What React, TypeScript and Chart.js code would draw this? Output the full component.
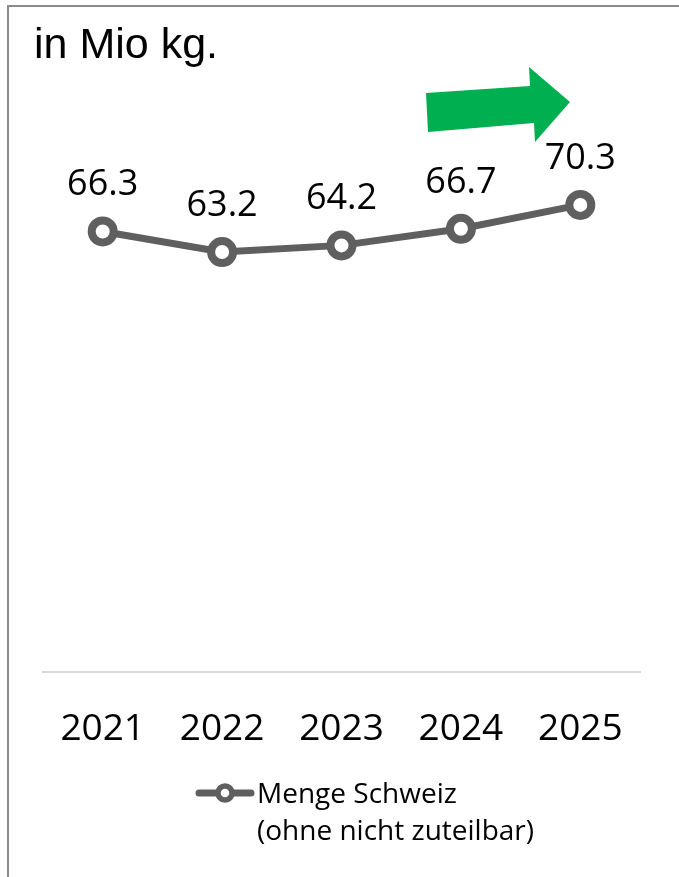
import React, { useEffect, useRef } from "react";
import { Chart, registerables } from "chart.js";

Chart.register(...registerables);

const years = ["2021", "2022", "2023", "2024", "2025"];
const mengeSchweiz = [66.3, 63.2, 64.2, 66.7, 70.3];
const legendLines = ["Menge Schweiz", "(ohne nicht zuteilbar)"];
const unitTitle = "in Mio kg.";

const LINE_COLOR = "#5f5f5f";
const FONT = "'Open Sans', 'Noto Sans', sans-serif";

const decorPlugin = {
  id: "decor",
  afterDatasetsDraw(chart: any) {
    const ctx = chart.ctx;
    const meta = chart.getDatasetMeta(0);
    const data = chart.data.datasets[0].data as number[];
    ctx.save();
    ctx.fillStyle = "#000";
    ctx.font = `36px ${FONT}`;
    ctx.textAlign = "center";
    ctx.textBaseline = "alphabetic";
    meta.data.forEach((pt: any, i: number) => {
      ctx.fillText(data[i].toFixed(1), pt.x, pt.y - 36);
    });
    ctx.restore();
  },
  afterDraw(chart: any) {
    const ctx = chart.ctx;
    ctx.save();
    // unit title
    ctx.fillStyle = "#000";
    ctx.font = "43px 'Liberation Sans', Arial, sans-serif";
    ctx.textAlign = "left";
    ctx.textBaseline = "alphabetic";
    ctx.fillText(unitTitle, 34, 58);

    // green trend arrow
    ctx.fillStyle = "#00b050";
    ctx.beginPath();
    ctx.moveTo(426, 93);
    ctx.lineTo(530, 86);
    ctx.lineTo(529, 67);
    ctx.lineTo(570, 102);
    ctx.lineTo(535, 142);
    ctx.lineTo(534, 123);
    ctx.lineTo(428, 132);
    ctx.closePath();
    ctx.fill();

    // legend
    const ly = 793;
    ctx.strokeStyle = LINE_COLOR;
    ctx.lineWidth = 7;
    ctx.lineCap = "round";
    ctx.beginPath();
    ctx.moveTo(199, ly);
    ctx.lineTo(251, ly);
    ctx.stroke();
    ctx.beginPath();
    ctx.arc(225, ly, 7, 0, Math.PI * 2);
    ctx.fillStyle = "#fff";
    ctx.fill();
    ctx.lineWidth = 5.5;
    ctx.stroke();

    ctx.fillStyle = "#000";
    ctx.font = `28px ${FONT}`;
    ctx.textAlign = "left";
    ctx.textBaseline = "alphabetic";
    legendLines.forEach((t, i) => {
      ctx.fillText(t, 257, 803 + i * 37);
    });
    ctx.restore();
  },
};

export default function App() {
  const canvasRef = useRef<HTMLCanvasElement | null>(null);

  useEffect(() => {
    const canvas = canvasRef.current;
    if (!canvas) return;
    const chart = new Chart(canvas, {
      type: "line",
      data: {
        labels: years,
        datasets: [
          {
            label: legendLines.join(" "),
            data: mengeSchweiz,
            borderColor: LINE_COLOR,
            borderWidth: 7,
            pointBackgroundColor: "#ffffff",
            pointBorderColor: LINE_COLOR,
            pointBorderWidth: 8,
            pointRadius: 11,
            pointHoverRadius: 11,
            tension: 0,
            clip: false as any,
          },
        ],
      },
      options: {
        animation: false,
        responsive: false,
        maintainAspectRatio: false,
        devicePixelRatio: 1,
        layout: {
          padding: { left: 43, right: 39, top: 4, bottom: 89 },
        },
        plugins: {
          legend: { display: false },
          tooltip: { enabled: false },
          title: { display: false },
        },
        scales: {
          x: {
            offset: true,
            grid: { display: false, drawTicks: false },
            border: { display: true, color: "#d9d9d9", width: 2 },
            ticks: {
              color: "#000",
              font: { family: FONT, size: 37 },
              padding: 36,
              maxRotation: 0,
              autoSkip: false,
            },
          },
          y: {
            display: false,
            min: 0,
            max: 98.3,
          },
        },
      },
      plugins: [decorPlugin],
    });
    return () => chart.destroy();
  }, []);

  return (
    <div
      style={{
        position: "fixed",
        left: 0,
        top: 0,
        width: 679,
        height: 877,
        overflow: "hidden",
        background: "#fff",
      }}
    >
      <canvas
        ref={canvasRef}
        width={679}
        height={877}
        style={{ position: "absolute", left: 0, top: 0, width: 679, height: 877 }}
      />
      <div
        style={{
          position: "absolute",
          left: 7,
          top: 5,
          width: 720,
          height: 920,
          border: "2px solid #8a8a8a",
          boxSizing: "border-box",
          pointerEvents: "none",
        }}
      />
    </div>
  );
}
